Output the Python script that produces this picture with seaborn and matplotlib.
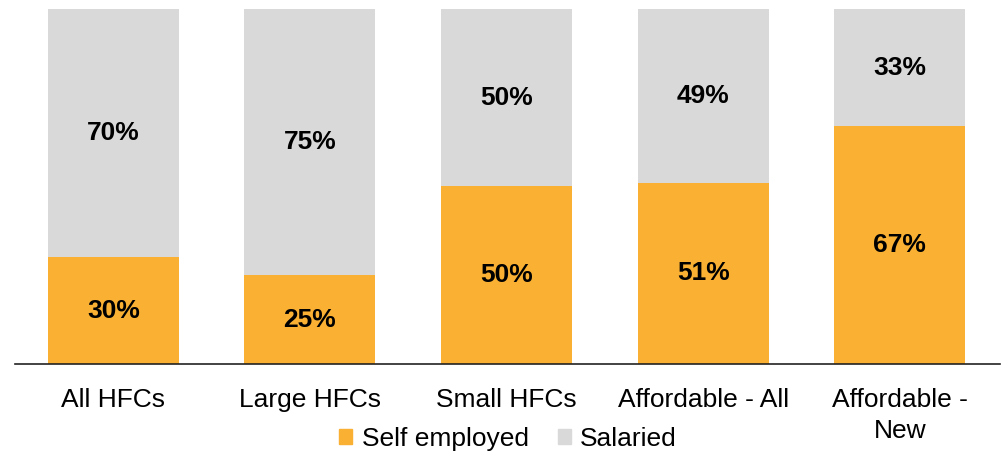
import pandas as pd
import numpy as np
import matplotlib.pyplot as plt
import seaborn as sns
from matplotlib.patches import Patch

# data
categories = ['All HFCs', 'Large HFCs', 'Small HFCs', 'Affordable - All', 'Affordable -\nNew']
self_employed = [30, 25, 50, 51, 67]
salaried = [70, 75, 50, 49, 33]

orange = '#F9B033'
grey = '#D9D9D9'

sns.set_theme(style='white')
plt.rcParams['font.family'] = ['Liberation Sans', 'DejaVu Sans']
plt.rcParams['text.color'] = 'black'
plt.rcParams['xtick.color'] = 'black'

df = pd.DataFrame({'cat': categories, 'self': self_employed, 'sal': salaried})
df['total'] = df['self'] + df['sal']

fig = plt.figure(figsize=(10.02, 4.51), dpi=100)
ax = fig.add_axes([0.015, 0.193, 0.983, 0.787])

sns.barplot(data=df, x='cat', y='total', color=grey, width=0.667, saturation=1, linewidth=0, ax=ax)
sns.barplot(data=df, x='cat', y='self', color=orange, width=0.667, saturation=1, linewidth=0, ax=ax)

# labels in the middle of each segment
for i, (s, p) in enumerate(zip(self_employed, salaried)):
    ax.text(i, s / 2, f'{s}%', ha='center', va='center', fontsize=19, fontweight='bold')
    ax.text(i, s + p / 2, f'{p}%', ha='center', va='center', fontsize=19, fontweight='bold')

ax.set_ylim(0, 100)
ax.set_xlim(-0.5, 4.51)
ax.set_xlabel('')
ax.set_ylabel('')
ax.set_yticks([])
ax.tick_params(axis='x', length=0, pad=17, labelsize=19, labelcolor='black')
for lbl in ax.get_xticklabels():
    lbl.set_linespacing(1.4)
for side in ['top', 'right', 'left']:
    ax.spines[side].set_visible(False)
ax.spines['bottom'].set_color('#222222')
ax.spines['bottom'].set_linewidth(1.2)

handles = [Patch(color=orange, label='Self employed'), Patch(color=grey, label='Salaried')]
fig.legend(handles=handles, loc='center', bbox_to_anchor=(0.507, 0.026), ncol=2, frameon=False,
           fontsize=19, handlelength=0.5, handleheight=0.5, handletextpad=0.35, columnspacing=1.1)

fig.savefig('out.png', dpi=100)
